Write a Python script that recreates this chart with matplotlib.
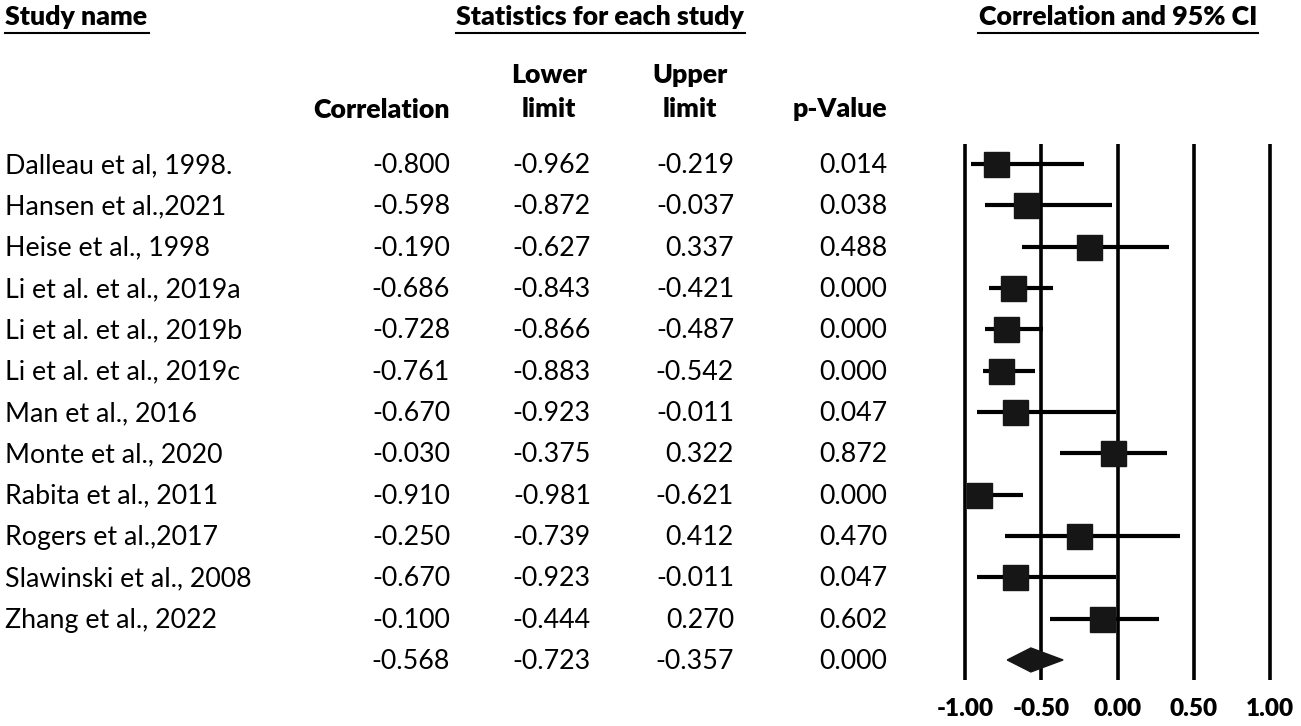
import numpy as np
import matplotlib
matplotlib.use("Agg")
import matplotlib.pyplot as plt
from matplotlib import transforms
from matplotlib.patches import Polygon

plt.rcParams['font.family'] = ['Lato', 'DejaVu Sans']

# Data
studies = ["Dalleau et al, 1998.", "Hansen et al.,2021", "Heise et al., 1998",
           "Li et al. et al., 2019a", "Li et al. et al., 2019b", "Li et al. et al., 2019c",
           "Man et al., 2016", "Monte et al., 2020", "Rabita et al., 2011",
           "Rogers et al.,2017", "Slawinski et al., 2008", "Zhang et al., 2022"]
corr = [-0.800, -0.598, -0.190, -0.686, -0.728, -0.761, -0.670, -0.030, -0.910, -0.250, -0.670, -0.100]
lower = [-0.962, -0.872, -0.627, -0.843, -0.866, -0.883, -0.923, -0.375, -0.981, -0.739, -0.923, -0.444]
upper = [-0.219, -0.037, 0.337, -0.421, -0.487, -0.542, -0.011, 0.322, -0.621, 0.412, -0.011, 0.270]
pval = [0.014, 0.038, 0.488, 0.000, 0.000, 0.000, 0.047, 0.872, 0.000, 0.470, 0.047, 0.602]
summary = {"corr": -0.568, "lower": -0.723, "upper": -0.357, "p": 0.000}
ticks = [-1.0, -0.5, 0.0, 0.5, 1.0]

W, H = 1301, 726
fig = plt.figure(figsize=(W / 100, H / 100), dpi=100)

# full-figure pixel axes for the table text
tab = fig.add_axes([0, 0, 1, 1])
tab.set_xlim(0, W)
tab.set_ylim(H, 0)
tab.axis("off")

# forest plot axes: -1 -> x=965px, 1 -> x=1270px ; rows 164px + 41.33px*i
px_per_unit = 152.5
left_px, right_px = 940, 1295
top_px, bot_px = 144, 680
row0, drow = 164, 41.33
ax = fig.add_axes([left_px / W, 1 - bot_px / H, (right_px - left_px) / W, (bot_px - top_px) / H])
ax.set_xlim(-1 - (965 - left_px) / px_per_unit, 1 + (right_px - 1270) / px_per_unit)
ax.set_ylim((bot_px - row0) / drow, (top_px - row0) / drow)
for s in ax.spines.values():
    s.set_visible(False)
ax.set_yticks([])
for t in ticks:
    ax.axvline(t, color="black", lw=2.6, zorder=1)

n = len(studies)
rows = np.arange(n)
for i in rows:
    ax.plot([lower[i], upper[i]], [i, i], color="black", lw=3.0, solid_capstyle="butt", zorder=2)
ax.plot(corr, rows, linestyle="none", marker="s", markersize=18, color="#161616", zorder=3)

h = 0.29
ax.add_patch(Polygon([(summary["lower"], n), (summary["corr"], n - h),
                      (summary["upper"], n), (summary["corr"], n + h)],
                     closed=True, color="#161616", zorder=3))

ax.set_xticks(ticks)
ax.set_xticklabels([f"{t:.2f}" for t in ticks], fontsize=17.5, fontweight="heavy")
ax.tick_params(axis="x", length=0, pad=13)

# text columns: x in pixels, y in row units of the forest axes
trans = transforms.blended_transform_factory(tab.transData, ax.transData)
fs = 19.3
base = 0.22  # baseline offset in row units
for i in range(n):
    y = i + base
    tab.text(5, y, studies[i], transform=trans, fontsize=fs, ha="left", va="baseline")
    tab.text(450, y, f"{corr[i]:.3f}", transform=trans, fontsize=fs, ha="right", va="baseline")
    tab.text(591, y, f"{lower[i]:.3f}", transform=trans, fontsize=fs, ha="right", va="baseline")
    tab.text(734, y, f"{upper[i]:.3f}", transform=trans, fontsize=fs, ha="right", va="baseline")
    tab.text(887, y, f"{pval[i]:.3f}", transform=trans, fontsize=fs, ha="right", va="baseline")
y = n + base
tab.text(450, y, f"{summary['corr']:.3f}", transform=trans, fontsize=fs, ha="right", va="baseline")
tab.text(591, y, f"{summary['lower']:.3f}", transform=trans, fontsize=fs, ha="right", va="baseline")
tab.text(734, y, f"{summary['upper']:.3f}", transform=trans, fontsize=fs, ha="right", va="baseline")
tab.text(887, y, f"{summary['p']:.3f}", transform=trans, fontsize=fs, ha="right", va="baseline")

# column headers
hw = "heavy"
tab.text(450, 118, "Correlation", fontsize=fs, fontweight=hw, ha="right", va="baseline")
tab.text(549, 83, "Lower", fontsize=fs, fontweight=hw, ha="center", va="baseline")
tab.text(549, 117, "limit", fontsize=fs, fontweight=hw, ha="center", va="baseline")
tab.text(690, 83, "Upper", fontsize=fs, fontweight=hw, ha="center", va="baseline")
tab.text(690, 117, "limit", fontsize=fs, fontweight=hw, ha="center", va="baseline")
tab.text(887, 117, "p-Value", fontsize=fs, fontweight=hw, ha="right", va="baseline")

# section titles with underlines
tab.text(5, 25, "Study name", fontsize=fs, fontweight=hw, ha="left", va="baseline")
tab.plot([5, 149], [33, 33], color="black", lw=1.5)
tab.text(600, 25, "Statistics for each study", fontsize=fs, fontweight=hw, ha="center", va="baseline")
tab.plot([456, 745], [33, 33], color="black", lw=1.5)
tab.text(1118, 25, "Correlation and 95% CI", fontsize=fs, fontweight=hw, ha="center", va="baseline")
tab.plot([978, 1258], [33, 33], color="black", lw=1.5)

fig.savefig("out.png", dpi=100)
